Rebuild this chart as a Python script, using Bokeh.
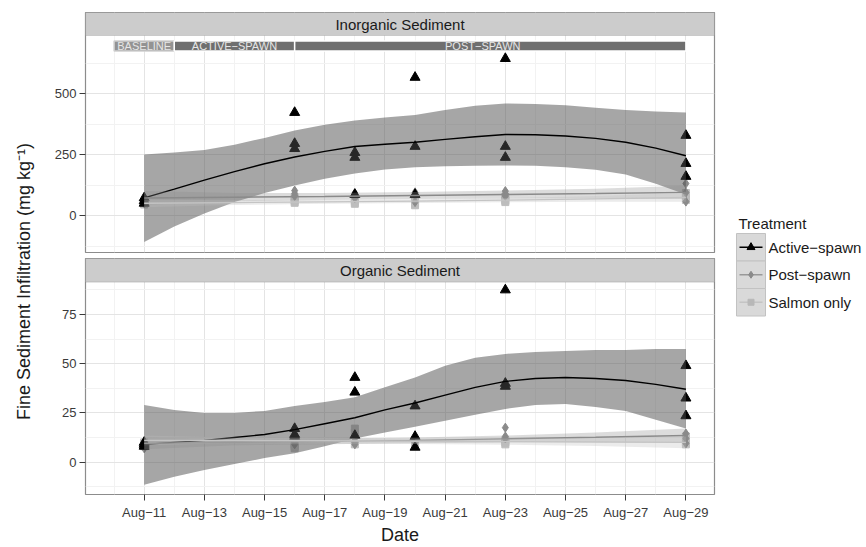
import math
from bokeh.plotting import figure
from bokeh.layouts import row, column
from bokeh.models import Range1d, FixedTicker, BoxAnnotation, Label, Grid
from bokeh.core.properties import value
from bokeh.embed import file_html
from bokeh.resources import INLINE

FONT = "Liberation Sans"

# ---------------- data ----------------
treatments = ["Active−spawn", "Post−spawn", "Salmon only"]
sample_days = [11, 16, 18, 20, 23, 29]          # day of August
tick_days = [11, 13, 15, 17, 19, 21, 23, 25, 27, 29]
tick_labels = ["Aug−11", "Aug−13", "Aug−15", "Aug−17", "Aug−19",
               "Aug−21", "Aug−23", "Aug−25", "Aug−27", "Aug−29"]
minor_days = [10, 12, 14, 16, 18, 20, 22, 24, 26, 28]

phase_names = ["BASELINE", "ACTIVE−SPAWN", "POST−SPAWN"]
phase_start = [10, 12, 16]
phase_end = [12, 16, 29]
phase_label_day = [11, 14, 22.25]

# Inorganic sediment (mg/kg), three replicates per sampling day
inorg_active = [[72, 60, 50], [422, 295, 274], [258, 238, 86],
                [566, 283, 86], [643, 283, 238], [328, 213, 160]]
inorg_post = [[65, 58, 50], [102, 90, 80], [92, 82, 72],
              [95, 82, 55], [100, 90, 80], [131, 94, 57]]
inorg_salmon = [[55, 50, 45], [72, 60, 52], [66, 56, 48],
                [62, 50, 42], [76, 62, 55], [92, 78, 64]]

# Organic sediment
org_active = [[10, 9, 8], [17, 14, 13], [43, 35.5, 13.5],
              [28.5, 13, 7.5], [87.5, 40, 38.5], [49, 32.5, 23.5]]
org_post = [[9, 8, 7], [11, 10, 9], [12, 10, 9],
            [12, 11, 10], [17.5, 13, 12], [14.5, 12, 9.5]]
org_salmon = [[10, 9, 8], [9, 8, 7], [17, 15, 9],
              [11, 10, 9], [11, 10, 9], [13, 10, 9]]

# loess fits
fit_days = [11, 12, 13, 14, 15, 16, 17, 18, 19, 20, 21, 22, 23, 24, 25, 26, 27, 28, 29]
inorg_active_fit = [72, 108, 145, 180, 212, 240, 263, 283, 292, 300, 312, 323, 332, 331, 326, 316, 300, 276, 245]
inorg_active_hi = [250, 258, 268, 290, 318, 348, 372, 389, 402, 412, 432, 450, 459, 457, 452, 442, 432, 426, 422]
inorg_active_lo = [-109, -45, 8, 55, 92, 123, 151, 172, 189, 198, 202, 204, 205, 204, 198, 188, 168, 130, 86]

org_active_fit = [9, 10, 11, 12.5, 14, 16.5, 19.5, 22.5, 26.5, 30, 34, 38, 41, 42.5, 43, 42.5, 41.5, 39.5, 37]
org_active_hi = [29, 26.5, 25, 25, 26, 28.5, 30.5, 33, 38, 43, 49, 53, 55, 56, 56.5, 57, 57, 57.5, 57.5]
org_active_lo = [-11.5, -7.5, -4, -1, 2, 4.5, 8, 12, 15, 18, 21, 24, 27, 29, 29.5, 28, 26, 21.5, 17]

light_days = [11, 14, 17, 20, 23, 26, 29]
inorg_post_fit = [72, 75, 78, 82, 86, 90, 95]
inorg_post_hi = [100, 92, 92, 96, 102, 110, 122]
inorg_post_lo = [44, 58, 64, 68, 70, 70, 68]
inorg_salmon_fit = [50, 53, 56, 59, 63, 68, 74]
inorg_salmon_hi = [66, 63, 64, 67, 72, 80, 92]
inorg_salmon_lo = [34, 43, 48, 51, 54, 56, 56]

org_post_fit = [9.5, 10, 10.5, 11, 11.8, 12.6, 13.5]
org_post_hi = [12.5, 11.5, 12, 12.5, 13.5, 15, 17]
org_post_lo = [6.5, 8.5, 9, 9.5, 10, 10.2, 10]
org_salmon_fit = [11, 11, 10.8, 10.6, 10.4, 10.2, 10]
org_salmon_hi = [13.5, 12.5, 12.3, 12, 12, 12.3, 13]
org_salmon_lo = [8.5, 9.5, 9.3, 9.2, 8.8, 8.1, 7]

# ---------------- styling ----------------
X_LO, X_HI = 9.05, 29.95
C_ACT, C_POST, C_SAL = "#000000", "#8a8a8a", "#bdbdbd"
TXT = "#3a3a3a"


def flat(groups):
    xs, ys = [], []
    for d, vals in zip(sample_days, groups):
        for v in vals:
            xs.append(d)
            ys.append(v)
    return xs, ys


def make_panel(title, ylo, yhi, strip_px, panel_px, yticks, yminor, pts, fits,
               height, top_border, bottom_border, show_x):
    ystrip = yhi + strip_px * (yhi - ylo) / panel_px
    p = figure(width=682, height=height, title=None,
               x_range=Range1d(X_LO, X_HI), y_range=Range1d(ylo, ystrip),
               toolbar_location=None, output_backend="svg",
               x_axis_location="below" if show_x else None,
               min_border_left=49, min_border_right=4,
               min_border_top=top_border, min_border_bottom=bottom_border)
    p.background_fill_color = "white"
    p.border_fill_color = "white"
    p.outline_line_color = "#8c8c8c"
    p.outline_line_width = 1.2
    for g in p.grid:
        g.visible = False
    for dim, tk, mn in ((0, tick_days, minor_days), (1, yticks, yminor)):
        g = Grid(dimension=dim, ticker=FixedTicker(ticks=tk, minor_ticks=mn))
        g.grid_line_color = "#e4e4e4"
        g.grid_line_width = 1
        g.minor_grid_line_color = "#f2f2f2"
        g.minor_grid_line_width = 1
        p.add_layout(g, "center")

    ya = p.yaxis[0]
    ya.ticker = FixedTicker(ticks=yticks)
    ya.axis_line_color = None
    ya.major_tick_out = 6
    ya.major_tick_in = 0
    ya.major_tick_line_color = TXT
    ya.minor_tick_line_color = None
    ya.major_label_text_font = FONT
    ya.major_label_text_font_size = "13px"
    ya.major_label_text_color = TXT
    ya.major_label_standoff = 3

    if show_x:
        xa = p.xaxis[0]
        xa.ticker = FixedTicker(ticks=tick_days)
        xa.major_label_overrides = {d: lab for d, lab in zip(tick_days, tick_labels)}
        xa.axis_line_color = None
        xa.major_tick_out = 6
        xa.major_tick_in = 0
        xa.major_tick_line_color = TXT
        xa.minor_tick_line_color = None
        xa.major_label_text_font = FONT
        xa.major_label_text_font_size = "13px"
        xa.major_label_text_color = TXT
        xa.major_label_standoff = 4
        xa.axis_label = "Date"
        xa.axis_label_text_font = FONT
        xa.axis_label_text_font_size = "18px"
        xa.axis_label_text_font_style = "normal"
        xa.axis_label_text_color = "#1a1a1a"
        xa.axis_label_standoff = 2

    # points
    sx, sy = flat(pts[2])
    p.scatter(sx, sy, marker="square", size=7, color=C_SAL)
    px_, py_ = flat(pts[1])
    p.scatter(px_, py_, marker="diamond", size=9, color=C_POST)
    ax_, ay_ = flat(pts[0])
    p.scatter(ax_, ay_, marker="triangle", size=10, color=C_ACT)

    # smooths (ribbon + line per treatment)
    (a_fit, a_hi, a_lo), (p_fit, p_hi, p_lo), (s_fit, s_hi, s_lo) = fits
    p.varea(x=fit_days, y1=a_lo, y2=a_hi, fill_color="#4d4d4d", fill_alpha=0.5)
    p.line(fit_days, a_fit, line_color=C_ACT, line_width=1.4)
    p.varea(x=light_days, y1=p_lo, y2=p_hi, fill_color=C_POST, fill_alpha=0.3)
    p.line(light_days, p_fit, line_color=C_POST, line_width=1.4)
    p.varea(x=light_days, y1=s_lo, y2=s_hi, fill_color=C_SAL, fill_alpha=0.3)
    p.line(light_days, s_fit, line_color="#c4c4c4", line_width=1.4)

    # facet strip
    p.add_layout(BoxAnnotation(left=X_LO, right=X_HI, bottom=yhi, top=ystrip,
                               fill_color="#cccccc", fill_alpha=1.0,
                               line_color="#8c8c8c", line_width=1.2))
    p.add_layout(Label(x=(X_LO + X_HI) / 2, y=(yhi + ystrip) / 2, text=title,
                       text_align="center", text_baseline="middle",
                       text_font=FONT, text_font_size="15px", text_color="#1a1a1a"))
    return p


p1 = make_panel("Inorganic Sediment", -151.6, 737.7, 23, 217,
                [0, 250, 500], [-125, 125, 375, 625],
                [inorg_active, inorg_post, inorg_salmon],
                [(inorg_active_fit, inorg_active_hi, inorg_active_lo),
                 (inorg_post_fit, inorg_post_hi, inorg_post_lo),
                 (inorg_salmon_fit, inorg_salmon_hi, inorg_salmon_lo)],
                height=255, top_border=12, bottom_border=3, show_x=False)

# phase bars in the top panel
p1.quad(left=phase_start, right=phase_end, bottom=674, top=715,
        fill_color=["#939393", "#6f6f6f", "#6f6f6f"],
        line_color=["#d0d0d0", "white", "white"], line_width=1.5)
p1.text(x=phase_label_day, y=[695] * len(phase_names), text=phase_names,
        text_align="center", text_baseline="middle",
        text_font=value(FONT), text_font_size="11px", text_color="#e6e6e6")

p2 = make_panel("Organic Sediment", -16.5, 91.5, 24, 216,
                [0, 25, 50, 75], [-12.5, 12.5, 37.5, 62.5, 87.5],
                [org_active, org_post, org_salmon],
                [(org_active_fit, org_active_hi, org_active_lo),
                 (org_post_fit, org_post_hi, org_post_lo),
                 (org_salmon_fit, org_salmon_hi, org_salmon_lo)],
                height=292, top_border=3, bottom_border=49, show_x=True)

# shared y-axis title
ylab = figure(width=36, height=547, title=None, x_range=Range1d(0, 36),
              y_range=Range1d(547, 0), toolbar_location=None, output_backend="svg",
              x_axis_location=None, y_axis_location=None, min_border=0,
              outline_line_color=None)
for g in ylab.grid:
    g.visible = False
ylab.add_layout(Label(x=23, y=281, text="Fine Sediment Infiltration (mg kg⁻¹)",
                      angle=math.pi / 2, text_align="center", text_baseline="middle",
                      text_font=FONT, text_font_size="18px", text_color="#1a1a1a"))

# legend
leg = figure(width=148, height=547, title=None, x_range=Range1d(0, 148),
             y_range=Range1d(547, 0), toolbar_location=None, output_backend="svg",
             x_axis_location=None, y_axis_location=None, min_border=0,
             outline_line_color=None)
for g in leg.grid:
    g.visible = False
key_cx = 32.5
row_y = [246.75 + 27.5 * i for i in range(len(treatments))]
leg.rect(x=[key_cx] * len(treatments), y=row_y, width=29, height=27.5,
         width_units="screen", height_units="screen",
         fill_color="#d9d9d9", line_color="#c2c2c2", line_width=1)
leg.segment(x0=[key_cx - 11.5] * 3, x1=[key_cx + 11.5] * 3, y0=row_y, y1=row_y,
            line_color=[C_ACT, "#999999", "#c4c4c4"], line_width=1.6)
leg.scatter(x=[key_cx] * 3, y=row_y, marker=["triangle", "diamond", "square"],
            size=[8, 7, 6], color=[C_ACT, C_POST, "#b8b8b8"])
leg.text(x=[50] * 3, y=row_y, text=treatments, text_align="left",
         text_baseline="middle", text_font=value(FONT), text_font_size="15px",
         text_color="#1a1a1a")
leg.text(x=[20], y=[223], text=["Treatment"], text_align="left",
         text_baseline="middle", text_font=value(FONT), text_font_size="15px",
         text_color="#1a1a1a")

layout = row(ylab, column(p1, p2), leg)
open("out.html", "w").write(file_html(layout, INLINE))
